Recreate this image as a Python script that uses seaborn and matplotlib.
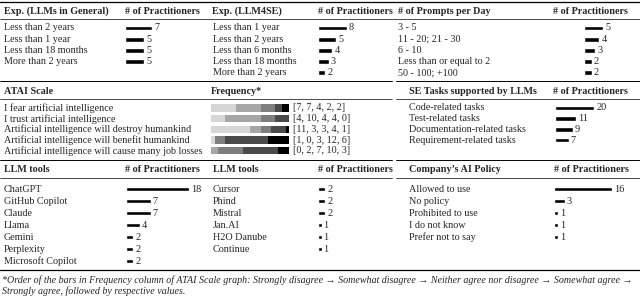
import numpy as np
import pandas as pd
import matplotlib
matplotlib.use("Agg")
import matplotlib.pyplot as plt
import seaborn as sns

sns.set_style("white")
plt.rcParams["font.family"] = ["Liberation Serif", "DejaVu Serif"]
plt.rcParams["font.size"] = 7.3

W, H = 640, 296

# ---- data ----
exp_general = ["Less than 2 years", "Less than 1 year", "Less than 18 months", "More than 2 years"]
exp_general_n = [7, 5, 5, 5]
exp_llm4se = ["Less than 1 year", "Less than 2 years", "Less than 6 months",
              "Less than 18 months", "More than 2 years"]
exp_llm4se_n = [8, 5, 4, 3, 2]
prompts = ["3 - 5", "11 - 20; 21 - 30", "6 - 10", "Less than or equal to 2", "50 - 100; +100"]
prompts_n = [5, 4, 3, 2, 2]

atai_items = ["I fear artificial intelligence",
              "I trust artificial intelligence",
              "Artificial intelligence will destroy humankind",
              "Artificial intelligence will benefit humankind",
              "Artificial intelligence will cause many job losses"]
atai_levels = ["Strongly disagree", "Somewhat disagree", "Neither agree nor disagree",
               "Somewhat agree", "Strongly agree"]
atai_freq = [[7, 7, 4, 2, 2],
             [4, 10, 4, 4, 0],
             [11, 3, 3, 4, 1],
             [1, 0, 3, 12, 6],
             [0, 2, 7, 10, 3]]
atai_colors = ["#d6d6d6", "#a6a6a6", "#7e7e7e", "#4a4a4a", "#000000"]

se_tasks = ["Code-related tasks", "Test-related tasks",
            "Documentation-related tasks", "Requirement-related tasks"]
se_tasks_n = [20, 11, 9, 7]

tools_a = ["ChatGPT", "GitHub Copilot", "Claude", "Llama", "Gemini", "Perplexity", "Microsoft Copilot"]
tools_a_n = [18, 7, 7, 4, 2, 2, 2]
tools_b = ["Cursor", "Phind", "Mistral", "Jan.AI", "H2O Danube", "Continue"]
tools_b_n = [2, 2, 2, 1, 1, 1]
policy = ["Allowed to use", "No policy", "Prohibited to use", "I do not know", "Prefer not to say"]
policy_n = [16, 3, 1, 1, 1]

footnote = ["*Order of the bars in Frequency column of ATAI Scale graph: Strongly disagree \u2192 "
            "Somewhat disagree \u2192 Neither agree nor disagree \u2192 Somewhat agree \u2192",
            "Strongly agree, followed by respective values."]

# ---- layout ----
fig = plt.figure(figsize=(6.4, 2.96), dpi=100)
base = fig.add_axes([0, 0, 1, 1])
base.set_xlim(0, W)
base.set_ylim(H, 0)
base.axis("off")


def rule(y, lw=0.5, split=False):
    if split:
        base.axhline(y, 0, 392 / W, color="black", lw=lw)
        base.axhline(y, 396 / W, 1, color="black", lw=lw)
    else:
        base.axhline(y, 0, 1, color="black", lw=lw)


def header(x, y, s):
    base.text(x, y, s, fontweight="bold", va="center", ha="left")


def row_labels(x, y0, dy, items):
    for i, s in enumerate(items):
        base.text(x, y0 + i * dy, s, va="center", ha="left")


def bar_axes(x0, y0, dy, n, w):
    return fig.add_axes([x0 / W, 1 - (y0 - dy / 2 + n * dy) / H, w / W, n * dy / H])


def finish(ax, n, w, scale):
    ax.set_xlim(0, w / scale)
    ax.set_ylim(n - 0.5, -0.5)
    ax.axis("off")


def count_bars(x0, y0, dy, items, values, w=80, scale=3.6):
    ax = bar_axes(x0, y0, dy, len(items), w)
    df = pd.DataFrame({"item": items, "n": values})
    sns.barplot(data=df, x="n", y="item", orient="h", color="black", saturation=1,
                width=4.8 / dy, errorbar=None, ax=ax)
    ax.bar_label(ax.containers[0], padding=1.5, fontsize=7.4)
    finish(ax, len(items), w, scale)


# section 1
rule(2, lw=0.9)
r1, d1 = 28, 11.2
header(4, 11, "Exp. (LLMs in General)")
header(125, 11, "# of Practitioners")
header(212, 11, "Exp. (LLM4SE)")
header(318, 11, "# of Practitioners")
header(398, 11, "# of Prompts per Day")
header(553, 11, "# of Practitioners")
rule(19)
row_labels(4, r1, d1, exp_general)
count_bars(125, r1, d1, exp_general, exp_general_n, scale=3.85)
row_labels(213, r1, d1, exp_llm4se)
count_bars(318, r1, d1, exp_llm4se, exp_llm4se_n, scale=3.6)
row_labels(398, r1, d1, prompts)
count_bars(584, r1, d1, prompts, prompts_n, w=50, scale=3.8)
rule(81, lw=0.7, split=True)

# section 2
r2, d2 = 108, 10.7
header(4, 91, "ATAI Scale")
header(211, 91, "Frequency*")
header(409, 91, "SE Tasks supported by LLMs")
header(553, 91, "# of Practitioners")
rule(99, split=True)
row_labels(4, r2, d2, atai_items)
ax = bar_axes(211, r2, d2, len(atai_items), 82)
freq = np.array(atai_freq)
left = np.zeros(len(atai_items))
for j, lvl in enumerate(atai_levels):
    cont = ax.barh(np.arange(len(atai_items)), freq[:, j], left=left, height=0.68,
                   color=atai_colors[j], label=lvl, linewidth=0)
    left = left + freq[:, j]
ax.bar_label(cont, labels=["[" + ", ".join(str(v) for v in r) + "]" for r in atai_freq],
             padding=3, fontsize=7.3)
finish(ax, len(atai_items), 82, 3.55)
row_labels(409, r2, d2, se_tasks)
count_bars(555, r2, d2, se_tasks, se_tasks_n, w=60, scale=1.95)
rule(160, lw=0.7, split=True)

# section 3
r3, d3 = 189, 12
header(4, 170, "LLM tools")
header(125, 170, "# of Practitioners")
header(213, 170, "LLM tools")
header(318, 170, "# of Practitioners")
header(409, 170, "Company\u2019s AI Policy")
header(554, 170, "# of Practitioners")
rule(178, split=True)
row_labels(4, r3, d3, tools_a)
count_bars(126, r3, d3, tools_a, tools_a_n, scale=3.5)
row_labels(213, r3, d3, tools_b)
count_bars(318, r3, d3, tools_b, tools_b_n, w=60, scale=3.5)
row_labels(409, r3, d3, policy)
count_bars(554, r3, d3, policy, policy_n, w=70, scale=3.6)
rule(270, lw=0.9)

base.text(2, 280, footnote[0], style="italic", va="center", ha="left", fontsize=7.2)
base.text(2, 291, footnote[1], style="italic", va="center", ha="left", fontsize=7.2)

fig.savefig("out.png", dpi=100)
